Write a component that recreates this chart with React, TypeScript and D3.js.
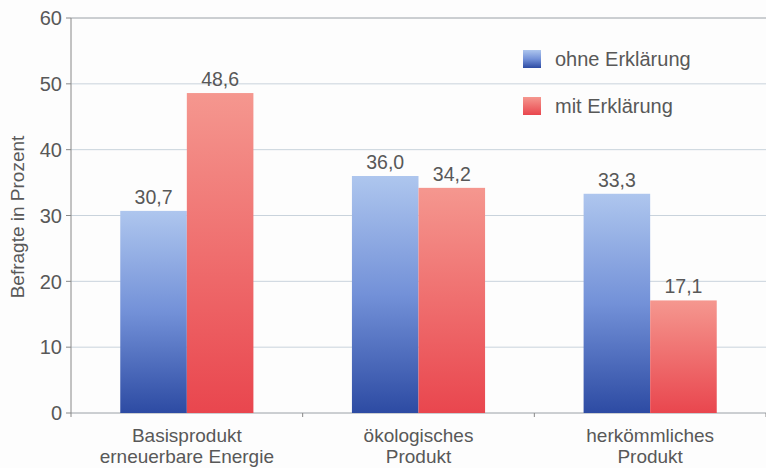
import React from "react";
import * as d3 from "d3";

const categories = ["Basisprodukt\nerneuerbare Energie", "ökologisches\nProdukt", "herkömmliches\nProdukt"];
const seriesNames = ["ohne Erklärung", "mit Erklärung"];
const ohneValues = [30.7, 36.0, 33.3];
const mitValues = [48.6, 34.2, 17.1];
const yTicks = [0, 10, 20, 30, 40, 50, 60];

const W = 766, H = 468;
const left = 71, right = 766, top = 18, bottom = 413;
const FONT = "'Liberation Sans', Arial, Helvetica, sans-serif";
const TXT = "#585858";

export default function App() {
  const x = d3.scaleBand<number>().domain(d3.range(categories.length)).range([left, right]).paddingInner(0).paddingOuter(0);
  const inner = d3.scaleBand<number>().domain([0, 1]).range([0, x.bandwidth()]).paddingOuter(0.74).paddingInner(0);
  const y = d3.scaleLinear().domain([0, 60]).range([bottom, top]);
  const fmt = (v: number) => v.toFixed(1).replace(".", ",");
  const series = [ohneValues, mitValues];
  const grads = ["gBlue", "gRed"];

  return (
    <svg width={W} height={H} style={{ position: "absolute", left: 0, top: 0, background: "#fdfdfd" }} fontFamily={FONT}>
      <defs>
        <linearGradient id="gBlue" x1="0" y1="0" x2="0" y2="1">
          <stop offset="0" stopColor="#aec6ee" />
          <stop offset="0.5" stopColor="#7391d8" />
          <stop offset="1" stopColor="#2d4ba3" />
        </linearGradient>
        <linearGradient id="gRed" x1="0" y1="0" x2="0" y2="1">
          <stop offset="0" stopColor="#f5978f" />
          <stop offset="1" stopColor="#e9464e" />
        </linearGradient>
      </defs>
      {yTicks.map((t) => (
        <g key={t}>
          <line x1={left} x2={right} y1={y(t)} y2={y(t)} stroke={t === 60 || t === 0 ? "#9aa0a6" : "#c9d3dc"} strokeWidth={1} />
          <line x1={left - 5} x2={left} y1={y(t)} y2={y(t)} stroke="#888" />
          <text x={left - 9} y={y(t)} dy="0.36em" textAnchor="end" fontSize={20} fill={TXT}>{t}</text>
        </g>
      ))}
      <line x1={left} x2={left} y1={top} y2={bottom + 4} stroke="#888" />
      {categories.map((c, i) => (
        <line key={"tk" + i} x1={(x(i) as number) + x.bandwidth()} x2={(x(i) as number) + x.bandwidth()} y1={bottom} y2={bottom + 4} stroke="#888" />
      ))}
      {categories.map((c, i) =>
        series.map((s, j) => {
          const bx = (x(i) as number) + (inner(j) as number);
          return (
            <g key={c + j}>
              <rect x={bx} y={y(s[i])} width={inner.bandwidth()} height={bottom - y(s[i])} fill={`url(#${grads[j]})`} />
              <text x={bx + inner.bandwidth() / 2} y={y(s[i]) - 7} textAnchor="middle" fontSize={19.5} fill={TXT}>{fmt(s[i])}</text>
            </g>
          );
        })
      )}
      {categories.map((c, i) => (
        <text key={"c" + i} x={(x(i) as number) + x.bandwidth() / 2} y={442} textAnchor="middle" fontSize={19} fill={TXT}>
          {c.split("\n").map((l, k) => (
            <tspan key={k} x={(x(i) as number) + x.bandwidth() / 2} dy={k === 0 ? 0 : 20.5}>{l}</tspan>
          ))}
        </text>
      ))}
      <text transform={`translate(24,217) rotate(-90)`} textAnchor="middle" fontSize={19} fill={TXT}>Befragte in Prozent</text>
      {seriesNames.map((n, j) => (
        <g key={n} transform={`translate(523,${50 + j * 47})`}>
          <rect width={18} height={18} fill={`url(#${grads[j]})`} />
          <text x={32} y={9} dy="0.36em" fontSize={20} fill={TXT}>{n}</text>
        </g>
      ))}
    </svg>
  );
}
